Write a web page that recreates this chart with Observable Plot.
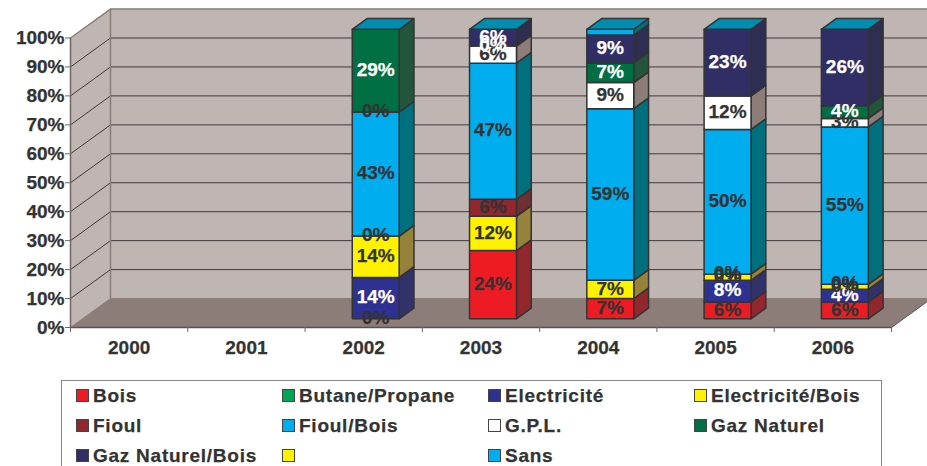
<!DOCTYPE html>
<html>
<head>
<meta charset="utf-8">
<script src="https://cdn.jsdelivr.net/npm/d3@7"></script>
<script src="https://cdn.jsdelivr.net/npm/@observablehq/plot@0.6"></script>
<style>
html,body{margin:0;padding:0;background:#fff;width:927px;height:466px;overflow:hidden;font-family:"Liberation Sans",Arial,sans-serif}
#legend{position:absolute;left:61px;top:380px;width:821px;height:100px;border:1px solid #8a8583;box-sizing:border-box;background:#fff}
.it{position:absolute;display:flex;align-items:center;font:bold 19px "Liberation Sans",Arial,sans-serif;letter-spacing:.75px;color:#333;height:22px;white-space:pre;-webkit-text-stroke:.25px #333}
.sw{position:absolute;left:0;top:4px;width:11px;height:11px;border:1px solid #444}
.it span{position:absolute;left:17.5px;top:0;line-height:22px}
</style>
</head>
<body>
<div id="chart"></div>
<div id="legend"></div>
<script>
const years = ["2000","2001","2002","2003","2004","2005","2006"];
const yTicks = [0,10,20,30,40,50,60,70,80,90,100];
const names = ["Bois","Butane/Propane","Electricité","Electricité/Bois","Fioul","Fioul/Bois","G.P.L.","Gaz Naturel","Gaz Naturel/Bois","","Sans"];
const faceColors = ["#ED1C24","#00A651","#2E3192","#FFF200","#92272D","#00AEEF","#FFFFFF","#006F44","#312E65","#FFF200","#00AEEF"];
const sideColors = ["#92282E","#00703C","#31326A","#96823A","#6F2F33","#00707F","#8C7D79","#23553D","#2D2E52","#96823A","#00707F"];
const textColors = ["#333","#333","#fff","#333","#333","#333","#333","#fff","#fff","#333","#333"];

// values per series, 2000..2006 (percent)
const bois        = [0,0, 0,  23.6, 7.0, 5.8, 5.8];
const butane      = [0,0, 0,  0,    0,   0,   0];
const electricite = [0,0, 14.3,0,   0,   7.5, 4.4];
const elecBois    = [0,0, 14.3,11.8,6.3, 2.1, 1.7];
const fioul       = [0,0, 0,  5.9,  0,   0,   0];
const fioulBois   = [0,0, 42.8,47.0,59.3,50.0,54.4];
const gpl         = [0,0, 0,  5.9,  9.0, 11.6,2.9];
const gazNat      = [0,0, 28.6,0,   6.8, 0,   4.4];
const gazNatBois  = [0,0, 0,  5.8,  9.6, 23.0,26.4];
const vide        = [0,0, 0,  0,    0,   0,   0];
const sans        = [0,0, 0,  0,    2.0, 0,   0];
const series = [bois,butane,electricite,elecBois,fioul,fioulBois,gpl,gazNat,gazNatBois,vide,sans];

// data labels printed on the chart, per series
const lBois   = [null,null,"0%","24%","7%","6%","6%"];
const lElec   = [null,null,"14%",null,null,"8%","4%"];
const lElecB  = [null,null,"14%","12%","7%","0%","0%"];
const lFioul  = [null,null,"0%","6%",null,"0%","0%"];
const lFioulB = [null,null,"43%","47%","59%","50%","55%"];
const lGpl    = [null,null,"0%","6%","9%","12%","3%"];
const lGaz    = [null,null,"29%","0%","7%",null,"4%"];
const lGazB   = [null,null,null,"6%","9%","23%","26%"];
const labels = [lBois,null,lElec,lElecB,lFioul,lFioulB,lGpl,lGaz,lGazB,null,null];

const capColor = "#008DAF", wallColor = "#BFB5B2", floorColor = "#8C7D79", gridColor = "#3F3B3C", edgeColor = "#8A7E7B", ink = "#333";

// oblique projection: category position c, percent v, depth d (0 = front, 1 = back wall)
const bandPx = 117.286, pxPerPct = 2.895;
const depthX = 40 / bandPx, depthY = 10;
const P = (c, v, d) => ({x: c + d * depthX, y: v + d * depthY});
const d0 = 0.30, d1 = 0.67, barL = 0.3, barR = 0.7;

const polys = [];
function poly(fill, pts){ const id = polys.length ? polys[polys.length-1].id + 1 : 0;
  [...pts, pts[0]].forEach(p => polys.push({id, fill, x:p.x, y:p.y})); }

const texts = [];
years.forEach((yr, i) => {
  let cum = 0, any = false;
  series.forEach((s, k) => {
    const v = s[i], a = cum, b = cum + v, L = i + barL, R = i + barR;
    if (v > 0) {
      any = true;
      poly(sideColors[k], [P(R,a,d0),P(R,a,d1),P(R,b,d1),P(R,b,d0)]);
      poly(faceColors[k], [P(L,a,d0),P(R,a,d0),P(R,b,d0),P(L,b,d0)]);
    }
    const lab = labels[k] && labels[k][i];
    if (lab) { const p = P(i + .5, (a + b) / 2, d0); texts.push({x:p.x, y:p.y, t:lab, c:textColors[k]}); }
    cum = b;
  });
  if (any) poly(capColor, [P(i+barL,100,d0),P(i+barR,100,d0),P(i+barR,100,d1),P(i+barL,100,d1)]);
});

const xEnd = 7;
const wallBack = [P(0,0,1),P(xEnd,0,1),P(xEnd,100,1),P(0,100,1)];
const wallLeft = [P(0,0,0),P(0,0,1),P(0,100,1),P(0,100,0)];
const floor = [P(0,0,0),P(xEnd,0,0),P(xEnd,0,1),P(0,0,1)];
const fillPoly = (pts, fill) => Plot.line([...pts, pts[0]], {x:"x", y:"y", fill, stroke:"none"});

const grid = yTicks.filter(v => v > 0 && v < 100).flatMap(v => [P(0,v,0),P(0,v,1),P(xEnd,v,1)].map(p => ({...p, v})));

const chart = Plot.plot({
  width: 927, height: 375,
  marginLeft: 70, marginRight: 0, marginTop: 0, marginBottom: 48,
  x: {domain: [0, (927-70)/bandPx]},
  y: {domain: [0, 327/pxPerPct]},
  style: {fontFamily: '"Liberation Sans",Arial,sans-serif', background: "transparent"},
  marks: [
    fillPoly(wallBack, wallColor),
    fillPoly(wallLeft, wallColor),
    fillPoly(floor, floorColor),
    Plot.line(grid, {x:"x", y:"y", z:"v", stroke:gridColor, strokeWidth:1}),
    Plot.line([P(0,100,0),P(0,100,1),P(xEnd,100,1)], {x:"x", y:"y", stroke:edgeColor, strokeWidth:1.5}),
    Plot.line([P(0,0,1),P(0,100,1)], {x:"x", y:"y", stroke:edgeColor, strokeWidth:1.5}),
    Plot.line([P(0,0,1),P(xEnd,0,1)], {x:"x", y:"y", stroke:floorColor, strokeWidth:1}),
    Plot.line([P(0,0,0),P(0,0,1)], {x:"x", y:"y", stroke:edgeColor, strokeWidth:1}),
    Plot.line([P(xEnd,0,0),P(xEnd,0,1)], {x:"x", y:"y", stroke:"#555", strokeWidth:1}),
    Plot.line(polys, {x:"x", y:"y", z:"id", fill:"fill", stroke:ink, strokeWidth:1.5, strokeLinejoin:"round"}),
    Plot.text(texts, {x:"x", y:"y", text:"t", fill:"c", stroke:"c", strokeWidth:.25, dy:-1, fontSize:19, fontWeight:"bold"}),
    Plot.line([P(0,0,0),P(0,100,0)], {x:"x", y:"y", stroke:"#6f6865", strokeWidth:1.5}),
    Plot.line([P(0,0,0),P(xEnd,0,0)], {x:"x", y:"y", stroke:"#555", strokeWidth:1.5}),
    Plot.axisY({ticks:yTicks, tickFormat:d=>d+"%", tickSize:5, tickPadding:1, fontSize:19, fontWeight:"bold", fill:ink, stroke:"#6f6865", textStroke:ink, textStrokeWidth:.25, label:null}),
    Plot.axisX({ticks:d3.range(0,8), tickFormat:()=>"", tickSize:5, stroke:"#6f6865", label:null}),
    Plot.text(years, {x:(d,i)=>i+.5, y:()=>0, text:d=>d, dy:20, fontSize:19, fontWeight:"bold", fill:ink, stroke:ink, strokeWidth:.25})
  ]
});
document.getElementById("chart").appendChild(chart);

// legend, 4 columns x 3 rows
const colX = [13.5, 219.5, 425.5, 631.5], rowY = [4, 34, 64];
const lg = document.getElementById("legend");
names.forEach((n,k)=>{
  const it = document.createElement("div"); it.className="it";
  it.style.left = colX[k%4]+"px"; it.style.top = rowY[Math.floor(k/4)]+"px";
  const sw = document.createElement("div"); sw.className="sw"; sw.style.background = faceColors[k];
  const sp = document.createElement("span"); sp.textContent = n;
  it.append(sw, sp); lg.append(it);
});
</script>
</body>
</html>
